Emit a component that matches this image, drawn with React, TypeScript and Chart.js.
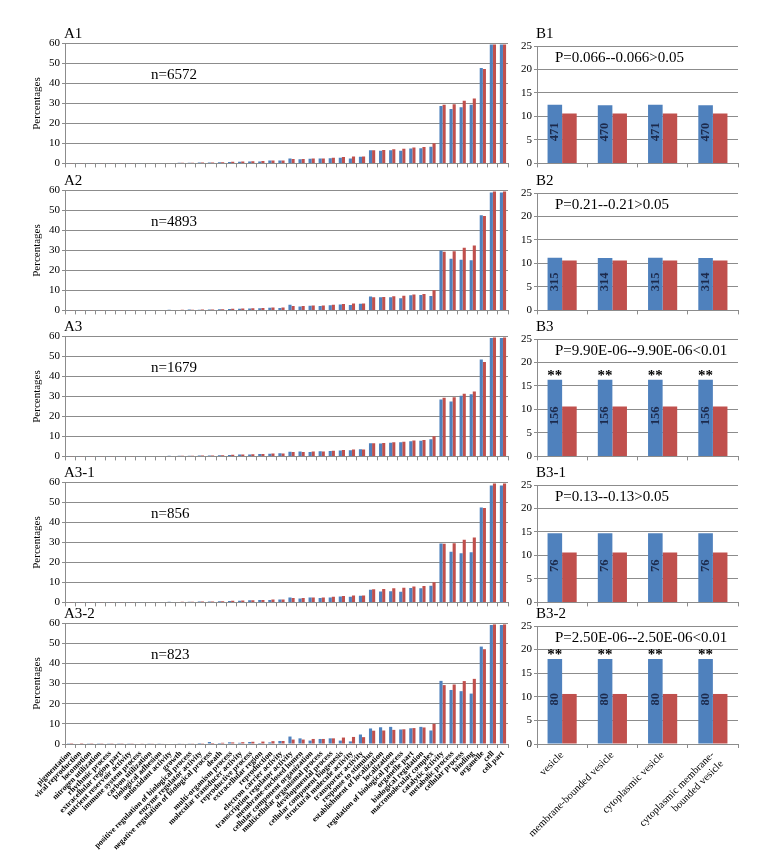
import React, { useEffect, useRef } from "react";
import { Chart, registerables } from "chart.js";
Chart.register(...registerables);

const SERIF = "'Liberation Serif', 'Times New Roman', serif";
const BLUE = "#4F81BD";
const RED = "#C0504D";
const GRID = "#8c8c8c";

// ---------- data ----------
const goCategories = [
  "pigmentation", "viral reproduction", "locomotion", "nitrogen utilization", "rhythmic process",
  "extracellular region part", "nutrient reservoir activity", "immune system process", "carbon utilization",
  "biological adhesion", "antioxidant activity", "growth", "positive regulation of biological process",
  "enzyme regulator activity", "negative regulation of biological process", "death", "multi-organism process",
  "molecular transducer activity", "reproductive process", "extracellular region", "reproduction",
  "electron carrier activity", "transcription regulator activity", "membrane-enclosed lumen",
  "cellular component organization", "multicellular organismal process", "developmental process",
  "cellular component biogenesis", "structural molecule activity", "transporter activity",
  "response to stimulus", "establishment of localization", "localization", "regulation of biological process",
  "organelle part", "biological regulation", "macromolecular complex", "catalytic activity",
  "metabolic process", "cellular process", "binding", "organelle", "cell", "cell part",
];

const genomePct = [0.05, 0.05, 0.08, 0.1, 0.1, 0.1, 0.12, 0.15, 0.15, 0.2, 0.25, 0.3, 0.35, 0.4, 0.5, 0.6, 0.8, 0.9, 1.1, 1.2, 1.4, 1.5, 2.2, 2.2, 2.5, 2.5, 2.8, 3.2, 3.5, 3.4, 6.6, 6.7, 7.0, 7.3, 7.9, 8.2, 10.0, 29.2, 29.5, 31.2, 32.3, 47.0, 59.3, 59.3];
const a1Pct = [0.03, 0.05, 0.06, 0.08, 0.1, 0.1, 0.1, 0.12, 0.15, 0.18, 0.25, 0.3, 0.35, 0.45, 0.45, 0.55, 0.7, 0.8, 1.0, 1.0, 1.4, 1.4, 2.4, 2.1, 2.3, 2.4, 2.6, 2.8, 2.5, 3.3, 6.5, 6.3, 6.6, 6.3, 7.4, 7.6, 8.3, 28.6, 27.1, 28.0, 29.2, 47.6, 59.2, 59.2];
const a2Pct = [0.02, 0.04, 0.06, 0.1, 0.08, 0.12, 0.1, 0.15, 0.12, 0.2, 0.3, 0.25, 0.4, 0.35, 0.5, 0.6, 0.7, 0.85, 1.0, 1.1, 1.3, 1.2, 2.8, 2.0, 2.3, 2.2, 2.6, 3.0, 2.7, 3.3, 6.9, 6.5, 6.6, 6.0, 7.6, 7.7, 7.2, 29.8, 25.8, 25.2, 25.0, 47.4, 58.7, 58.7];
const a3Pct = [0.03, 0.05, 0.07, 0.1, 0.12, 0.1, 0.15, 0.12, 0.18, 0.2, 0.3, 0.35, 0.3, 0.45, 0.5, 0.6, 0.75, 0.9, 1.0, 1.2, 1.3, 1.6, 2.3, 2.4, 2.2, 2.6, 2.7, 3.0, 3.1, 3.6, 6.5, 6.4, 6.8, 7.0, 7.5, 7.8, 8.6, 28.4, 27.3, 30.2, 31.0, 48.3, 59.0, 59.0];
const a31Pct = [0, 0.06, 0.05, 0.12, 0.1, 0.12, 0.12, 0.12, 0.2, 0.24, 0.35, 0.24, 0.35, 0.47, 0.47, 0.6, 0.7, 0.8, 1.1, 1.2, 1.2, 1.4, 2.5, 2.0, 2.4, 2.2, 2.5, 2.9, 2.8, 3.3, 6.3, 5.4, 5.6, 5.3, 7.2, 7.0, 8.3, 29.4, 25.2, 24.5, 25.0, 47.3, 58.3, 58.3];
const a32Pct = [0.1, 0.0, 0.12, 0.1, 0.12, 0.1, 0.12, 0.25, 0.12, 0.12, 0.24, 0.36, 0.36, 0.5, 1.0, 0.5, 0.85, 0.6, 1.0, 0.5, 0.8, 1.5, 3.7, 2.8, 1.7, 2.5, 2.8, 1.7, 1.3, 4.7, 7.7, 8.3, 8.5, 7.2, 7.8, 8.5, 6.7, 31.3, 26.8, 26.2, 25.0, 48.3, 59.0, 59.0];

const aTitles = ["A1", "A2", "A3", "A3-1", "A3-2"];
const aSampleSizes = [6572, 4893, 1679, 856, 823];
const aTicksMax = 60;
const aTickStep = 10;

const vesicleTerms: (string | string[])[] = [
  "vesicle", "membrane-bounded vesicle", "cytoplasmic vesicle", ["cytoplasmic membrane-", "bounded vesicle"],
];
const genomeVesiclePct = [10.6, 10.6, 10.6, 10.6];
const b1Pct = [12.5, 12.4, 12.5, 12.4];
const b2Pct = [11.2, 11.15, 11.2, 11.15];
const b3Pct = [16.3, 16.3, 16.3, 16.3];
const b31Pct = [14.7, 14.7, 14.7, 14.7];
const b32Pct = [18.0, 18.0, 18.0, 18.0];
const b1Counts = [471, 470, 471, 470];
const b2Counts = [315, 314, 315, 314];
const b3Counts = [156, 156, 156, 156];
const b31Counts = [76, 76, 76, 76];
const b32Counts = [80, 80, 80, 80];
const bTitles = ["B1", "B2", "B3", "B3-1", "B3-2"];
const bPValues = [
  "P=0.066--0.066>0.05",
  "P=0.21--0.21>0.05",
  "P=9.90E-06--9.90E-06<0.01",
  "P=0.13--0.13>0.05",
  "P=2.50E-06--2.50E-06<0.01",
];
const bSignificant = [false, false, true, false, true];
const bTicksMax = 25;
const bTickStep = 5;

// ---------- layout ----------
const panelTops = [43, 190, 336, 482, 623];
const panelHeight = 121;
const A_LEFT = 65, A_RIGHT = 508, A_CANVAS_X = 0, A_CANVAS_W = 515;
const B_LEFT = 537, B_RIGHT = 738, B_CANVAS_X = 515, B_CANVAS_W = 265;
const PAGE_H = 866;

type Spec = {
  id: string;
  cx: number; cy: number; cw: number; ch: number;
  area: { left: number; top: number; right: number; bottom: number };
  labels: any[];
  series: number[];
  reference: number[];
  yMax: number; yStep: number;
  showX: boolean;
  xFont: any;
  catPct: number;
  draw: (ctx: CanvasRenderingContext2D, chart: any, ox: number, oy: number) => void;
};

const aSeries = [a1Pct, a2Pct, a3Pct, a31Pct, a32Pct];
const bSeries = [b1Pct, b2Pct, b3Pct, b31Pct, b32Pct];
const bCounts = [b1Counts, b2Counts, b3Counts, b31Counts, b32Counts];

const specs: Spec[] = [];
panelTops.forEach((top, i) => {
  const bottom = top + panelHeight;
  const last = i === panelTops.length - 1;
  const cy = top - 30;
  const ch = last ? PAGE_H - cy : bottom + 8 - cy;
  specs.push({
    id: "A" + i,
    cx: A_CANVAS_X, cy, cw: A_CANVAS_W, ch,
    area: { left: A_LEFT, top, right: A_RIGHT, bottom },
    labels: goCategories,
    series: aSeries[i],
    reference: genomePct,
    yMax: aTicksMax, yStep: aTickStep,
    showX: last,
    xFont: { family: SERIF, size: 8, weight: "bold" },
    catPct: 0.62,
    draw: (ctx, chart, ox, oy) => {
      ctx.fillStyle = "#000";
      ctx.font = `15px ${SERIF}`;
      ctx.textAlign = "left";
      ctx.textBaseline = "alphabetic";
      ctx.fillText(aTitles[i], 64 - ox, top - 5 - oy);
      ctx.textBaseline = "middle";
      ctx.fillText(`n=${aSampleSizes[i]}`, 151 - ox, top + 32 - oy);
      ctx.font = `11px ${SERIF}`;
      ctx.translate(37 - ox, (top + bottom) / 2 - oy);
      ctx.rotate(-Math.PI / 2);
      ctx.textAlign = "center";
      ctx.fillText("Percentages", 0, 0);
    },
  });
  specs.push({
    id: "B" + i,
    cx: B_CANVAS_X, cy, cw: B_CANVAS_W, ch,
    area: { left: B_LEFT, top: top + 3, right: B_RIGHT, bottom },
    labels: vesicleTerms,
    series: bSeries[i],
    reference: genomeVesiclePct,
    yMax: bTicksMax, yStep: bTickStep,
    showX: last,
    xFont: { family: SERIF, size: 10.5 },
    catPct: 0.58,
    draw: (ctx, chart, ox, oy) => {
      ctx.fillStyle = "#000";
      ctx.font = `15px ${SERIF}`;
      ctx.textAlign = "left";
      ctx.textBaseline = "alphabetic";
      ctx.fillText(bTitles[i], 536 - ox, top - 5 - oy);
      ctx.textBaseline = "middle";
      ctx.fillText(bPValues[i], 555 - ox, top + 15 - oy);
      const meta = chart.getDatasetMeta(0);
      meta.data.forEach((el: any, k: number) => {
        const mid = (el.y + el.base) / 2;
        ctx.save();
        ctx.translate(el.x, mid - 2);
        ctx.rotate(-Math.PI / 2);
        ctx.font = `bold 12.5px ${SERIF}`;
        ctx.fillStyle = "#1c2a4c";
        ctx.textAlign = "center";
        ctx.textBaseline = "middle";
        ctx.fillText(String(bCounts[i][k]), 0, 0);
        ctx.restore();
        if (bSignificant[i]) {
          ctx.save();
          ctx.font = `bold 15px ${SERIF}`;
          ctx.fillStyle = "#000";
          ctx.textAlign = "center";
          ctx.textBaseline = "bottom";
          ctx.fillText("**", el.x, el.y + 4);
          ctx.restore();
        }
      });
    },
  });
});

function Panel({ spec }: { spec: Spec }) {
  const ref = useRef<HTMLCanvasElement>(null);
  useEffect(() => {
    const s = spec;
    const ox = s.cx, oy = s.cy;
    const chart = new Chart(ref.current as HTMLCanvasElement, {
      type: "bar",
      data: {
        labels: s.labels,
        datasets: [
          { data: s.series, backgroundColor: BLUE, categoryPercentage: s.catPct, barPercentage: 1, borderWidth: 0 },
          { data: s.reference, backgroundColor: RED, categoryPercentage: s.catPct, barPercentage: 1, borderWidth: 0 },
        ],
      },
      options: {
        animation: false,
        responsive: false,
        maintainAspectRatio: false,
        devicePixelRatio: 1,
        layout: {
          padding: { left: 0, top: s.area.top - oy, right: ox + s.cw - s.area.right, bottom: 0 },
        },
        plugins: { legend: { display: false }, tooltip: { enabled: false }, title: { display: false } },
        scales: {
          x: {
            grid: { display: true, drawOnChartArea: false, drawTicks: true, tickLength: 4, color: GRID, offset: true },
            border: { display: true, color: GRID, width: 1 },
            ticks: {
              display: s.showX, autoSkip: false, maxRotation: 45, minRotation: 45, padding: 1,
              color: "#000", font: s.xFont,
            },
            afterFit: (scale: any) => { scale.height = oy + s.ch - s.area.bottom; },
          },
          y: {
            min: 0, max: s.yMax,
            grid: { color: GRID, tickLength: 3, drawTicks: true },
            border: { display: true, color: GRID, width: 1 },
            ticks: { stepSize: s.yStep, padding: 2, color: "#000", font: { family: SERIF, size: 11 } },
            afterFit: (scale: any) => { scale.width = s.area.left - ox; },
          },
        },
      } as any,
      plugins: [
        {
          id: "annot" + s.id,
          afterDraw(c: any) {
            const ctx = c.ctx;
            ctx.save();
            s.draw(ctx, c, ox, oy);
            ctx.restore();
          },
        },
      ],
    });
    return () => chart.destroy();
  }, [spec]);
  return (
    <canvas
      ref={ref}
      width={spec.cw}
      height={spec.ch}
      style={{ position: "absolute", left: spec.cx, top: spec.cy, width: spec.cw, height: spec.ch }}
    />
  );
}

export default function App() {
  return (
    <div style={{ position: "absolute", left: 0, top: 0, width: 780, height: PAGE_H, background: "#fff", overflow: "hidden" }}>
      {specs.map((s) => (
        <Panel key={s.id} spec={s} />
      ))}
    </div>
  );
}
